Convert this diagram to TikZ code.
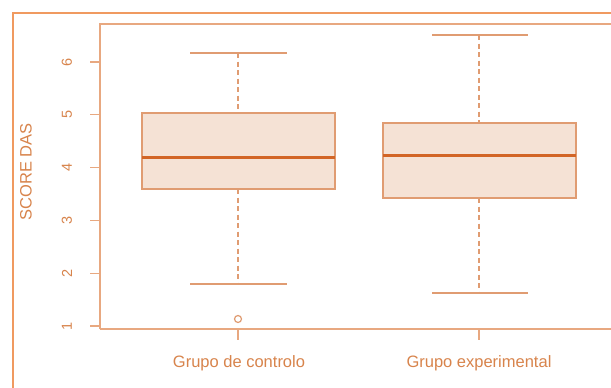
\documentclass[tikz,border=0pt]{standalone}
\usepackage{fontspec}
\setmainfont{Liberation Sans}
\begin{document}
\begin{tikzpicture}[x=1pt,y=-1pt,
  frameline/.style={draw=framec,line width=2.2pt},
  axisline/.style={draw=axisc,line width=1.1pt},
  boxstyle/.style={draw=boxc,line width=1.3pt,fill=boxfill},
  medline/.style={draw=medc,line width=3pt},
  whisk/.style={draw=boxc,line width=1.2pt,dash pattern=on 5pt off 3.5pt},
  capline/.style={draw=boxc,line width=1.3pt},
  ticklab/.style={text=txtc,font=\fontsize{14.5}{16}\selectfont,rotate=90},
  catlab/.style={text=txtc,font=\fontsize{16.5}{19}\selectfont}]
\definecolor{framec}{HTML}{F09A60}
\definecolor{axisc}{HTML}{E8A880}
\definecolor{boxc}{HTML}{E09C72}
\definecolor{boxfill}{HTML}{F5E2D5}
\definecolor{medc}{HTML}{D26526}
\definecolor{txtc}{HTML}{D8844C}
\useasboundingbox (0,0) rectangle (611,388);
\fill[white] (0,0) rectangle (611,388);
% outer frame (continues past the right and bottom edges)
\draw[frameline] (13,392) -- (13,13) -- (615,13);
% plot region border
\draw[axisline] (100,329) -- (100,24) -- (615,24);
\draw[axisline] (100,329) -- (615,329);
% y axis ticks and labels
\foreach \v in {1,...,6}{
  \pgfmathsetmacro{\yy}{326-(\v-1)*52.8}
  \draw[axisline] (90,\yy) -- (100,\yy);
  \node[ticklab] (ty\v) at (67,\yy) {\v};
}
\node[catlab,rotate=90] (ylab) at (26,172) {SCORE DAS};
% x axis ticks and labels
\draw[axisline] (238,329) -- (238,340);
\draw[axisline] (479,329) -- (479,340);
\node[catlab] (xl1) at (239,363) {Grupo de controlo};
\node[catlab] (xl2) at (479,363) {Grupo experimental};
% control group box
\coordinate (c1top) at (238,53);
\coordinate (c1bot) at (238,284);
\draw[whisk] (c1top) -- (238,113);
\draw[whisk] (238,189) -- (c1bot);
\draw[capline] (190,53) -- (287,53);
\draw[capline] (190,284) -- (287,284);
\draw[boxstyle] (142,113) rectangle (335,189);
\draw[medline] (142,157) -- (335,157);
\draw[draw=boxc,line width=1.2pt] (238,319) circle (3.5);
% experimental group box
\coordinate (c2top) at (479,35);
\coordinate (c2bot) at (479,293);
\draw[whisk] (c2top) -- (479,123);
\draw[whisk] (479,198) -- (c2bot);
\draw[capline] (432,35) -- (528,35);
\draw[capline] (432,293) -- (528,293);
\draw[boxstyle] (383,123) rectangle (576,198);
\draw[medline] (383,155) -- (576,155);
\end{tikzpicture}
\end{document}
